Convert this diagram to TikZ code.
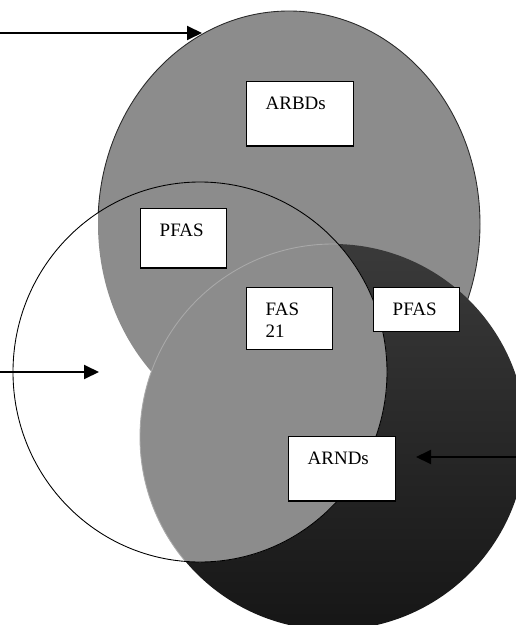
\documentclass[tikz,border=0pt]{standalone}
\usepackage{fontspec}
\setmainfont{Liberation Serif}
\usetikzlibrary{arrows.meta}
\definecolor{Grey}{HTML}{8C8C8C}
\definecolor{CoalTop}{HTML}{3A3A3A}
\definecolor{CoalBot}{HTML}{161616}
\definecolor{Rim}{HTML}{2A2A2A}

\begin{document}
\begin{tikzpicture}[x=0.02cm,y=-0.02cm,
  box/.style={draw,line width=0.8pt,fill=white,anchor=north west,align=left,inner xsep=0.38cm,inner ysep=0pt,text height=0.55cm,font=\fontsize{10.8}{12.5}\selectfont},
  rim/.style={line width=0.5pt},
  arr/.style={-{Triangle[length=3mm,width=2.8mm]},line width=1.1pt}
]
\useasboundingbox (0,0) rectangle (516,625);
\clip (0,0) rectangle (516,625);

\fill[Grey] (289,224) ellipse [x radius=191,y radius=213];
\draw[rim,Rim] (289,224) ellipse [x radius=191,y radius=213];
\shade[top color=CoalTop,bottom color=CoalBot] (333,437) ellipse [x radius=193,y radius=193];
\fill[white] (200,372) ellipse [x radius=187,y radius=190];
\begin{scope}
  \clip (200,372) ellipse [x radius=187,y radius=190];
  \fill[Grey] (289,224) ellipse [x radius=191,y radius=213];
  \fill[Grey] (333,437) ellipse [x radius=193,y radius=193];
  \draw[rim,Grey!75!white] (333,437) ellipse [x radius=193,y radius=193];
\end{scope}
\draw[rim,black] (200,372) ellipse [x radius=187,y radius=190];

\node[box,text width=1.38cm,text depth=0.74cm] (arbd) at (246,81) {ARBDs};
\node[box,text width=0.96cm,text depth=0.64cm] (pfasl) at (140,208) {PFAS};
\node[box,text width=0.96cm,text depth=0.69cm] (fas) at (246,287) {FAS\\21};
\node[box,text width=0.96cm,text depth=0.33cm] (pfasr) at (373,287) {PFAS};
\node[box,text width=1.38cm,text depth=0.74cm] (arnd) at (288,436) {ARNDs};

\coordinate (inA) at (0,33);    \coordinate (tipA) at (202,33);
\coordinate (inB) at (0,372);   \coordinate (tipB) at (99,372);
\coordinate (inC) at (516,457); \coordinate (tipC) at (416,457);
\draw[arr] (inA)--(tipA); \draw[arr] (inB)--(tipB); \draw[arr] (inC)--(tipC);
\end{tikzpicture}
\end{document}
